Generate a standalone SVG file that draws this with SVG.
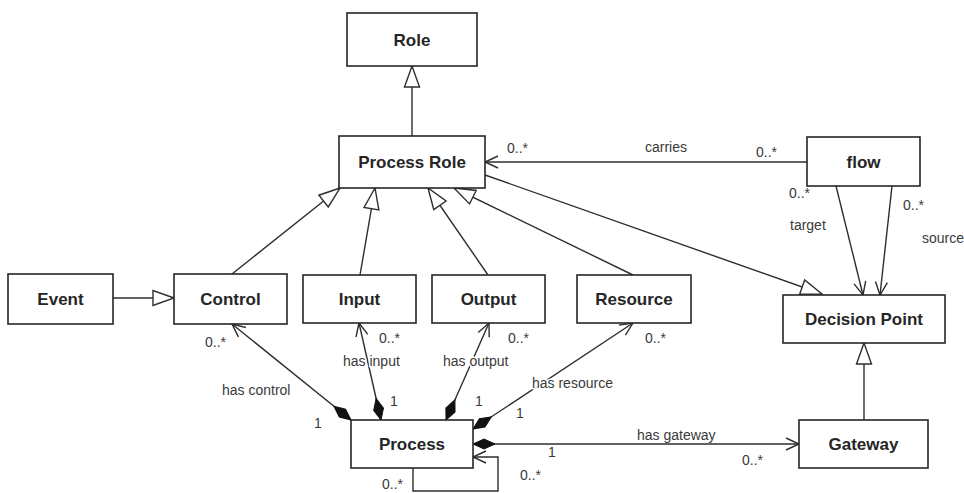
<svg xmlns="http://www.w3.org/2000/svg" width="964" height="493" viewBox="0 0 964 493">
  <style>
    .box { fill: #ffffff; stroke: #262626; stroke-width: 1.6; }
    .name { font-family: "Liberation Sans", Arial, sans-serif; font-size: 17px; font-weight: bold; fill: #262626; text-anchor: middle; }
    .lbl { font-family: "Liberation Sans", Arial, sans-serif; font-size: 14px; fill: #3a3a3a; }
    .halo { paint-order: stroke; stroke: #ffffff; stroke-width: 3px; stroke-linejoin: round; }
    .edge { fill: none; stroke: #2e2e2e; stroke-width: 1.4; }
  </style>
  <defs>
    <!-- hollow triangle: generalization -->
    <marker id="gen" markerUnits="userSpaceOnUse" markerWidth="40" markerHeight="40" refX="0" refY="0" orient="auto" overflow="visible">
      <path d="M0,0 L-21,-7.5 L-21,7.5 Z" fill="#ffffff" stroke="#2e2e2e" stroke-width="1.4"/>
    </marker>
    <!-- open arrow: navigable end -->
    <marker id="open" markerUnits="userSpaceOnUse" markerWidth="40" markerHeight="40" refX="0" refY="0" orient="auto" overflow="visible">
      <path d="M-13,-6 L0,0 L-13,6" fill="none" stroke="#2e2e2e" stroke-width="1.4"/>
    </marker>
    <!-- filled diamond: composition -->
    <marker id="comp" markerUnits="userSpaceOnUse" markerWidth="40" markerHeight="40" refX="0" refY="0" orient="auto" overflow="visible">
      <path d="M0,0 L11,-5 L22,0 L11,5 Z" fill="#111111" stroke="#111111" stroke-width="1"/>
    </marker>
  </defs>

  <g id="connectors">
    <!-- generalizations -->
    <line class="edge" x1="412" y1="136" x2="412" y2="66" marker-end="url(#gen)"/>
    <line class="edge" x1="113" y1="298" x2="174" y2="298" marker-end="url(#gen)"/>
    <line class="edge" x1="232" y1="274" x2="340" y2="188" marker-end="url(#gen)"/>
    <line class="edge" x1="360" y1="275" x2="375" y2="188" marker-end="url(#gen)"/>
    <line class="edge" x1="488" y1="275" x2="428" y2="188" marker-end="url(#gen)"/>
    <line class="edge" x1="633" y1="275" x2="454" y2="188" marker-end="url(#gen)"/>
    <line class="edge" x1="485" y1="175" x2="822" y2="294" marker-end="url(#gen)"/>
    <line class="edge" x1="864" y1="420" x2="864" y2="343" marker-end="url(#gen)"/>

    <!-- associations -->
    <line class="edge" x1="807" y1="162" x2="485" y2="162" marker-end="url(#open)"/>
    <line class="edge" x1="836" y1="186" x2="863" y2="295" marker-end="url(#open)"/>
    <line class="edge" x1="892" y1="186" x2="880" y2="295" marker-end="url(#open)"/>

    <!-- compositions from Process -->
    <line class="edge" x1="351" y1="420" x2="232" y2="324" marker-start="url(#comp)" marker-end="url(#open)"/>
    <line class="edge" x1="381" y1="420" x2="359" y2="323" marker-start="url(#comp)" marker-end="url(#open)"/>
    <line class="edge" x1="446" y1="420" x2="489" y2="323" marker-start="url(#comp)" marker-end="url(#open)"/>
    <line class="edge" x1="473" y1="429" x2="633" y2="323" marker-start="url(#comp)" marker-end="url(#open)"/>
    <line class="edge" x1="473" y1="444" x2="799" y2="444" marker-start="url(#comp)" marker-end="url(#open)"/>
    <path class="edge" d="M413,468 V491 H498 V457 H473" marker-end="url(#open)"/>
  </g>

  <g id="labels">
    <text class="lbl" x="507" y="153">0..*</text>
    <text class="lbl" x="645" y="152">carries</text>
    <text class="lbl" x="756" y="157">0..*</text>
    <text class="lbl" x="789" y="198">0..*</text>
    <text class="lbl" x="790" y="230">target</text>
    <text class="lbl" x="903" y="210">0..*</text>
    <text class="lbl" x="922" y="243">source</text>

    <text class="lbl" x="205" y="347">0..*</text>
    <text class="lbl" x="222" y="395">has control</text>
    <text class="lbl" x="314" y="428">1</text>

    <text class="lbl" x="379" y="343">0..*</text>
    <text class="lbl halo" x="343" y="366">has input</text>
    <text class="lbl" x="390" y="406">1</text>

    <text class="lbl" x="508" y="343">0..*</text>
    <text class="lbl halo" x="443" y="366">has output</text>
    <text class="lbl" x="475" y="406">1</text>

    <text class="lbl" x="645" y="343">0..*</text>
    <text class="lbl halo" x="532" y="388">has resource</text>
    <text class="lbl" x="516" y="418">1</text>

    <text class="lbl" x="637" y="440">has gateway</text>
    <text class="lbl" x="548" y="457">1</text>
    <text class="lbl" x="742" y="465">0..*</text>

    <text class="lbl" x="520" y="480">0..*</text>
    <text class="lbl" x="382" y="489">0..*</text>
  </g>

  <g id="role">
    <rect class="box" x="347" y="13" width="130" height="53"/>
    <text class="name" x="412" y="45.5">Role</text>
  </g>
  <g id="process-role">
    <rect class="box" x="339" y="136" width="146" height="52"/>
    <text class="name" x="412" y="168">Process Role</text>
  </g>
  <g id="flow">
    <rect class="box" x="807" y="137" width="113" height="49"/>
    <text class="name" x="863.5" y="167.5">flow</text>
  </g>
  <g id="event">
    <rect class="box" x="8" y="274" width="105" height="50"/>
    <text class="name" x="60.5" y="305">Event</text>
  </g>
  <g id="control">
    <rect class="box" x="174" y="274" width="113" height="50"/>
    <text class="name" x="230.5" y="305">Control</text>
  </g>
  <g id="input">
    <rect class="box" x="303" y="275" width="113" height="48"/>
    <text class="name" x="359.5" y="305">Input</text>
  </g>
  <g id="output">
    <rect class="box" x="432" y="275" width="113" height="48"/>
    <text class="name" x="488.5" y="305">Output</text>
  </g>
  <g id="resource">
    <rect class="box" x="577" y="275" width="114" height="48"/>
    <text class="name" x="634" y="305">Resource</text>
  </g>
  <g id="decision-point">
    <rect class="box" x="783" y="295" width="162" height="48"/>
    <text class="name" x="864" y="325">Decision Point</text>
  </g>
  <g id="process">
    <rect class="box" x="351" y="420" width="122" height="48"/>
    <text class="name" x="412" y="450">Process</text>
  </g>
  <g id="gateway">
    <rect class="box" x="799" y="420" width="129" height="48"/>
    <text class="name" x="863.5" y="450">Gateway</text>
  </g>
</svg>
